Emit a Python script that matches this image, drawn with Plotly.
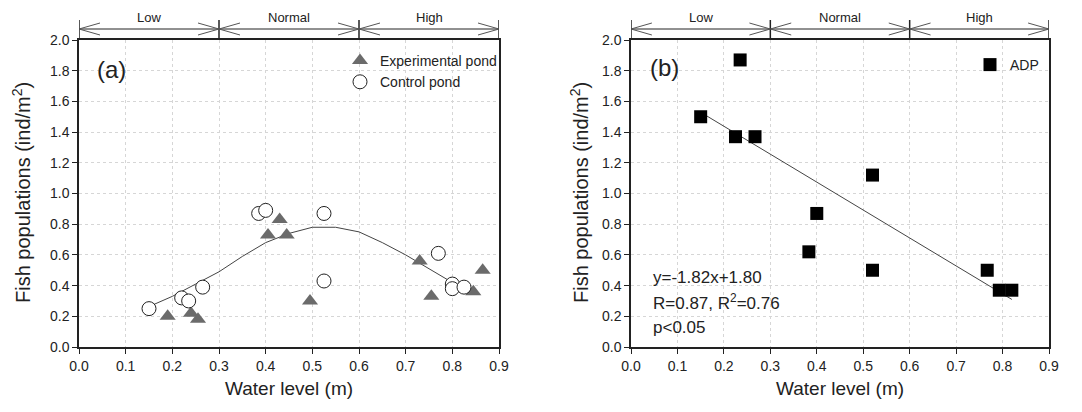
import plotly.graph_objects as go
from plotly.subplots import make_subplots

# (a) experimental vs control ponds
exp_x = [0.19, 0.24, 0.255, 0.405, 0.43, 0.445, 0.495, 0.73, 0.755, 0.845, 0.865]
exp_y = [0.20, 0.22, 0.18, 0.73, 0.83, 0.73, 0.30, 0.56, 0.33, 0.36, 0.50]
ctl_x = [0.15, 0.22, 0.235, 0.265, 0.385, 0.40, 0.525, 0.525, 0.77, 0.80, 0.80, 0.825]
ctl_y = [0.25, 0.32, 0.30, 0.39, 0.87, 0.89, 0.87, 0.43, 0.61, 0.41, 0.38, 0.39]
# fitted curve
fit_x = [0.155, 0.2, 0.25, 0.3, 0.35, 0.4, 0.45, 0.5, 0.55, 0.6, 0.65, 0.7, 0.75, 0.8]
fit_y = [0.27, 0.33, 0.41, 0.49, 0.59, 0.68, 0.74, 0.78, 0.78, 0.75, 0.68, 0.60, 0.51, 0.42]

# (b) ADP
adp_x = [0.15, 0.225, 0.235, 0.267, 0.383, 0.40, 0.52, 0.52, 0.767, 0.793, 0.82]
adp_y = [1.50, 1.37, 1.87, 1.37, 0.62, 0.87, 1.12, 0.50, 0.50, 0.37, 0.37]
reg_x = [0.155, 0.82]
reg_y = [1.52, 0.31]

# water level zones
zone_edges = [0.0, 0.3, 0.6, 0.9]
zone_names = ["Low", "Normal", "High"]

# the page body has an 8px margin, so the figure is drawn 8px smaller
OFF = 8
W, H = 1082 - OFF, 412 - OFF
FONT = "Liberation Sans, Arial, sans-serif"

def px(p):
    return (p - OFF) / W

def py(p):
    return 1 - (p - OFF) / H

fig = make_subplots(rows=1, cols=2)

fig.add_trace(go.Scatter(x=fit_x, y=fit_y, mode="lines", line=dict(color="#444", width=1),
                         showlegend=False), row=1, col=1)
fig.add_trace(go.Scatter(x=exp_x, y=exp_y, mode="markers", name="Experimental pond",
                         marker=dict(symbol="triangle-up", size=14, color="#6b6b6b")),
              row=1, col=1)
fig.add_trace(go.Scatter(x=ctl_x, y=ctl_y, mode="markers", name="Control pond",
                         marker=dict(symbol="circle", size=14, color="white",
                                     line=dict(color="#222", width=1))),
              row=1, col=1)

fig.add_trace(go.Scatter(x=reg_x, y=reg_y, mode="lines", line=dict(color="#444", width=1),
                         showlegend=False), row=1, col=2)
fig.add_trace(go.Scatter(x=adp_x, y=adp_y, mode="markers", name="ADP", legend="legend2",
                         marker=dict(symbol="square", size=13, color="black")),
              row=1, col=2)

axis_common = dict(showline=True, linecolor="#222", linewidth=1.5, mirror=True,
                   ticks="outside", ticklen=5, tickcolor="#222",
                   showgrid=True, gridcolor="#d6d6d6", griddash="dot", gridwidth=1,
                   zeroline=False, tickfont=dict(size=14, color="#222"))

doms = [(79, 499), (631, 1049)]
for i, (a, b) in enumerate(doms, start=1):
    fig.update_xaxes(axis_common, range=[0, 0.9], dtick=0.1, tickformat=".1f",
                     domain=[px(a), px(b)], row=1, col=i)
    fig.update_yaxes(axis_common, range=[0, 2.0], dtick=0.2, tickformat=".1f",
                     domain=[py(347), py(40)], row=1, col=i)

shapes = []
annotations = []
arrow_y = py(29)
head_dx = 0.045
head_dy = 6 / H
for i, xr in enumerate(["x", "x2"]):
    for e in zone_edges:
        shapes.append(dict(type="line", xref=xr, yref="paper", x0=e, x1=e,
                           y0=py(40), y1=py(20), line=dict(color="#222", width=1.5)))
    for k, name in enumerate(zone_names):
        a, b = zone_edges[k], zone_edges[k + 1]
        shapes.append(dict(type="line", xref=xr, yref="paper", x0=a, x1=b,
                           y0=arrow_y, y1=arrow_y, line=dict(color="#222", width=1)))
        for tip, d in [(a, head_dx), (b, -head_dx)]:
            for s in (1, -1):
                shapes.append(dict(type="line", xref=xr, yref="paper", x0=tip, x1=tip + d,
                                   y0=arrow_y, y1=arrow_y + s * head_dy,
                                   line=dict(color="#555", width=1)))
        annotations.append(dict(xref=xr, yref="paper", x=(a + b) / 2, y=py(17),
                                xanchor="center", yanchor="middle",
                                text=name, showarrow=False, font=dict(size=13, color="#222")))

# panel labels
annotations.append(dict(xref="x", yref="y", x=0.07, y=1.81, text="(a)", showarrow=False,
                        xanchor="center", yanchor="middle", font=dict(size=24, color="#222")))
annotations.append(dict(xref="x2", yref="y2", x=0.073, y=1.82, text="(b)", showarrow=False,
                        xanchor="center", yanchor="middle", font=dict(size=24, color="#222")))

# regression text
for txt, yv in [("y=-1.82x+1.80", 0.45), ("R=0.87, R<sup>2</sup>=0.76", 0.29), ("p<0.05", 0.13)]:
    annotations.append(dict(xref="x2", yref="y2", x=0.043, y=yv, xanchor="left",
                            yanchor="middle", text=txt, showarrow=False,
                            font=dict(size=17, color="#222")))

# axis titles
for cx, cy in [(289, 388), (840, 388)]:
    annotations.append(dict(xref="paper", yref="paper", x=px(cx), y=py(cy),
                            xanchor="center", yanchor="middle",
                            text="Water level (m)", showarrow=False,
                            font=dict(size=19, color="#222")))
for cx in [22, 580]:
    annotations.append(dict(xref="paper", yref="paper", x=px(cx), y=py(193),
                            xanchor="center", yanchor="middle",
                            text="Fish populations (ind/m<sup>2</sup>)", textangle=-90,
                            showarrow=False, font=dict(size=20, color="#222")))

fig.update_layout(
    width=W, height=H,
    margin=dict(l=0, r=0, t=0, b=0),
    template="none",
    paper_bgcolor="white", plot_bgcolor="white",
    font=dict(family=FONT, color="#222"),
    shapes=shapes, annotations=annotations,
    legend=dict(x=px(340), y=py(45), xanchor="left", yanchor="top",
                bgcolor="rgba(0,0,0,0)", font=dict(size=14), tracegroupgap=0),
    legend2=dict(x=px(970), y=py(49), xanchor="left", yanchor="top",
                 bgcolor="rgba(0,0,0,0)", font=dict(size=14)),
)

fig.write_html("out.html")
